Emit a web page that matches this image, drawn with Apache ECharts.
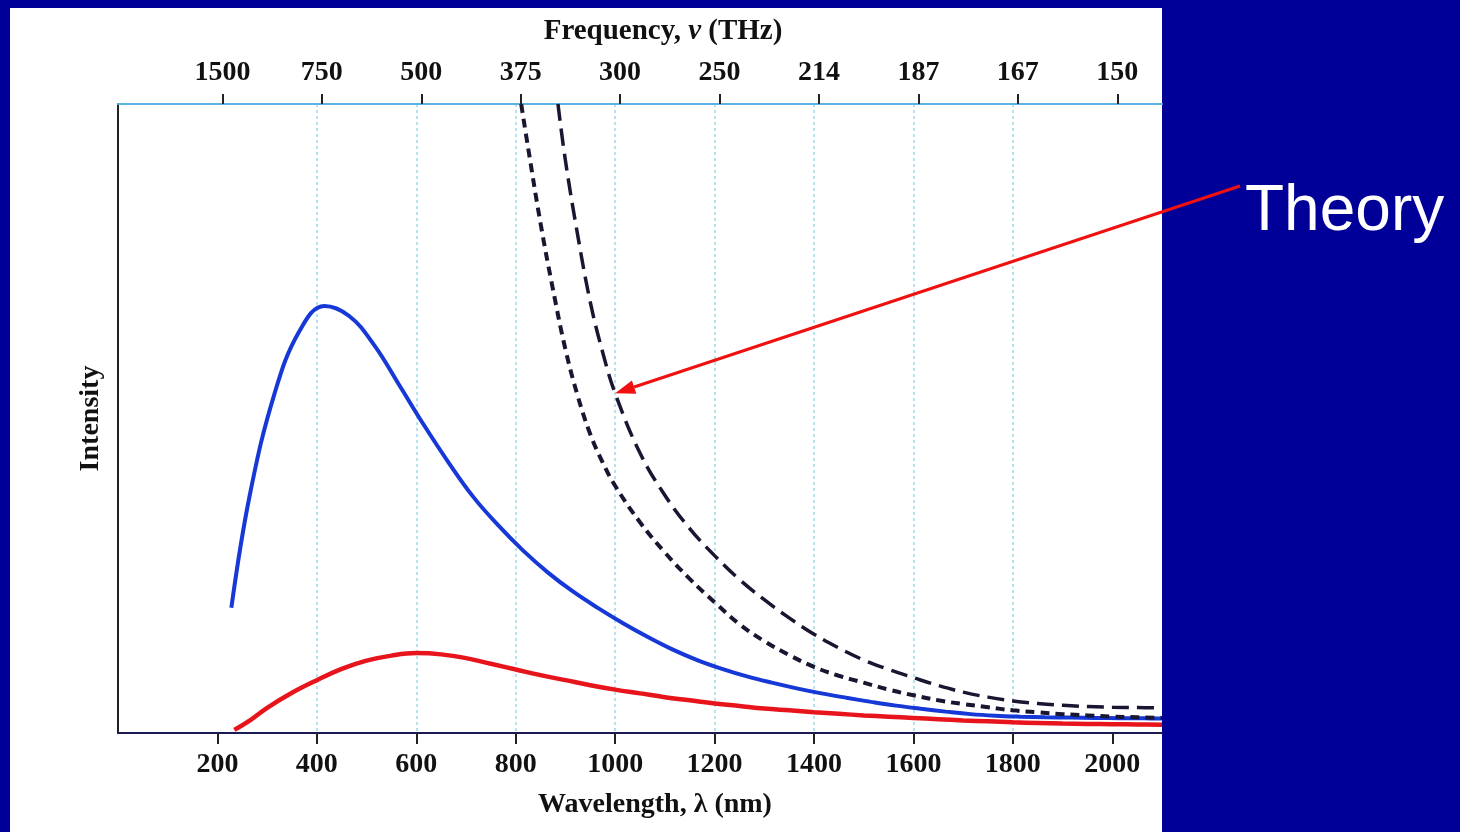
<!DOCTYPE html>
<html>
<head>
<meta charset="utf-8">
<title>Blackbody radiation</title>
<script src="https://cdn.jsdelivr.net/npm/echarts@6/dist/echarts.min.js"></script>
<style>
  html, body { margin: 0; padding: 0; background: #000099; }
  #main { width: 1460px; height: 832px; }
</style>
</head>
<body>
<div id="main"></div>
<script>
// wavelength ticks (nm) and the matching frequency labels (THz) on the top axis
const waveTicks = [200, 400, 600, 800, 1000, 1200, 1400, 1600, 1800, 2000];
const freqLabels = ['1500', '750', '500', '375', '300', '250', '214', '187', '167', '150'];

// measured curve (hotter body) - [wavelength nm, intensity]
const hotCurve = [
  [228, 19.9], [265, 37.8], [315, 54.0], [365, 63.9], [415, 67.9], [465, 66.3],
  [515, 61.7], [565, 55.4], [615, 49.0], [665, 43.0], [715, 37.5], [765, 33.0],
  [815, 29.0], [865, 25.5], [915, 22.5], [965, 19.9], [1015, 17.5], [1065, 15.3],
  [1115, 13.3], [1165, 11.6], [1215, 10.2], [1265, 9.0], [1315, 8.0], [1365, 7.1],
  [1415, 6.3], [1465, 5.6], [1515, 4.95], [1565, 4.35], [1615, 3.85], [1665, 3.4],
  [1715, 3.0], [1765, 2.75], [1815, 2.6], [1865, 2.5], [1915, 2.45], [1965, 2.4],
  [2015, 2.35], [2065, 2.33], [2100, 2.3]
];
// measured curve (cooler body)
const coolCurve = [
  [234, 0.5], [267, 2.1], [300, 4.0], [350, 6.4], [400, 8.4], [450, 10.2],
  [500, 11.5], [550, 12.3], [600, 12.7], [650, 12.5], [700, 11.9], [750, 11.0],
  [800, 10.1], [850, 9.2], [900, 8.4], [950, 7.6], [1000, 6.9], [1050, 6.3],
  [1100, 5.7], [1150, 5.2], [1200, 4.7], [1250, 4.3], [1300, 3.9], [1350, 3.6],
  [1400, 3.3], [1450, 3.05], [1500, 2.8], [1550, 2.6], [1600, 2.4], [1650, 2.2],
  [1700, 2.0], [1750, 1.85], [1800, 1.7], [1850, 1.6], [1900, 1.5], [1950, 1.45],
  [2000, 1.4], [2050, 1.35], [2100, 1.3]
];
// classical theory, hotter body (long dashes)
const theoryHot = [
  [885, 100], [900, 91.0], [925, 79.0], [950, 68.5], [975, 60.5], [1000, 54.0],
  [1050, 44.5], [1100, 37.8], [1150, 32.5], [1200, 28.2], [1250, 24.4], [1300, 21.2],
  [1350, 18.3], [1400, 15.7], [1450, 13.5], [1500, 11.6], [1550, 10.1], [1600, 8.8],
  [1650, 7.55], [1700, 6.5], [1750, 5.7], [1800, 5.1], [1850, 4.7], [1900, 4.4],
  [1950, 4.2], [2000, 4.1], [2050, 4.05], [2100, 4.0]
];
// classical theory, cooler body (short dashes)
const theoryCool = [
  [811, 100], [825, 93.0], [850, 81.0], [875, 70.5], [900, 61.0], [925, 53.5],
  [950, 47.5], [975, 43.0], [1000, 39.3], [1050, 33.5], [1100, 28.7], [1150, 24.5],
  [1200, 20.8], [1250, 17.3], [1300, 14.6], [1350, 12.4], [1400, 10.5], [1450, 9.1],
  [1500, 8.0], [1550, 6.9], [1600, 6.0], [1650, 5.2], [1700, 4.6], [1750, 4.1],
  [1800, 3.6], [1850, 3.3], [1900, 3.0], [1950, 2.8], [2000, 2.6], [2050, 2.5],
  [2100, 2.4]
];

const serif = "'Liberation Serif', 'DejaVu Serif', serif";
const labelStyle = { fontFamily: serif, fontWeight: 'bold', fontSize: 28, color: '#111' };

var myChart = echarts.init(document.getElementById('main'));

function curve(data, color, width, dash, z) {
  return {
    type: 'line', data: data, smooth: 0.4, showSymbol: false,
    lineStyle: { color: color, width: width, type: dash || 'solid' }, z: z
  };
}

myChart.setOption({
  backgroundColor: '#000099',
  animation: false,
  grid: { left: 118, right: 298, top: 104, bottom: 99 },
  xAxis: [
    {
      type: 'value', position: 'bottom', min: 0, max: 2100, interval: 200,
      name: 'Wavelength, λ (nm)', nameLocation: 'middle', nameGap: 58,
      nameTextStyle: Object.assign({}, labelStyle, { padding: [0, 0, 0, 30] }),
      axisLine: { lineStyle: { color: '#1c1c55', width: 2 } },
      axisTick: { show: true, length: 11, customValues: waveTicks, lineStyle: { color: '#222', width: 2 } },
      axisLabel: Object.assign({}, labelStyle, {
        margin: 18,
        customValues: waveTicks,
        formatter: v => String(v)
      }),
      splitLine: {
        show: true, showMinLine: false, showMaxLine: false,
        lineStyle: { color: '#9adbe9', width: 1.5, type: [3, 3] }
      }
    },
    {
      type: 'value', position: 'top', min: -10, max: 2090,
      name: '{b|Frequency, }{i|v}{b| (THz)}', nameLocation: 'middle', nameGap: 58,
      nameTextStyle: {
        padding: [0, 0, 0, 46],
        rich: {
          b: { fontFamily: serif, fontWeight: 'bold', fontSize: 29, color: '#111' },
          i: { fontFamily: serif, fontWeight: 'bold', fontStyle: 'italic', fontSize: 29, color: '#111' }
        }
      },
      axisLine: { lineStyle: { color: '#5bb3e3', width: 2 } },
      axisTick: { show: true, length: 10, customValues: waveTicks, lineStyle: { color: '#222', width: 2 } },
      axisLabel: Object.assign({}, labelStyle, {
        margin: 17,
        customValues: waveTicks,
        formatter: v => freqLabels[waveTicks.indexOf(v)] || ''
      }),
      splitLine: { show: false }
    }
  ],
  yAxis: {
    type: 'value', min: 0, max: 100,
    name: 'Intensity', nameLocation: 'middle', nameGap: 13, nameRotate: 90,
    nameTextStyle: labelStyle,
    axisLine: { show: true, lineStyle: { color: '#222', width: 2 } },
    axisTick: { show: false },
    axisLabel: { show: false },
    splitLine: { show: false }
  },
  series: [
    curve(coolCurve, '#e8141c', 4.5, null, 3),
    curve(hotCurve, '#1638d6', 4, null, 4),
    curve(theoryCool, '#1a1530', 4, [9, 6], 5),
    curve(theoryHot, '#1a1530', 3.5, [17, 8], 5)
  ]
});

// arrow from the "Theory" label down to the hot theory curve
const tip = myChart.convertToPixel({ xAxisIndex: 0, yAxisIndex: 0 }, [1000, 54.0]);
const tail = [1240, 186];
const dx = tail[0] - tip[0], dy = tail[1] - tip[1];
const len = Math.sqrt(dx * dx + dy * dy);
const ux = dx / len, uy = dy / len;
const headL = 20, headW = 7;
const base = [tip[0] + ux * headL, tip[1] + uy * headL];

myChart.setOption({
  graphic: [
    {
      type: 'rect', z: -10, silent: true,
      shape: { x: 10, y: 8, width: 1152, height: 824 },
      style: { fill: '#ffffff' }
    },
    {
      type: 'line', z: 100,
      shape: { x1: tail[0], y1: tail[1], x2: base[0], y2: base[1] },
      style: { stroke: '#f01010', lineWidth: 3 }
    },
    {
      type: 'polygon', z: 100,
      shape: {
        points: [
          tip,
          [base[0] - uy * headW, base[1] + ux * headW],
          [base[0] + uy * headW, base[1] - ux * headW]
        ]
      },
      style: { fill: '#f01010' }
    },
    {
      type: 'text', z: 100, left: 1245, top: 180,
      style: {
        text: 'Theory', fill: '#ffffff',
        font: "64px 'Liberation Sans', Arial, sans-serif"
      }
    }
  ]
});
</script>
</body>
</html>
